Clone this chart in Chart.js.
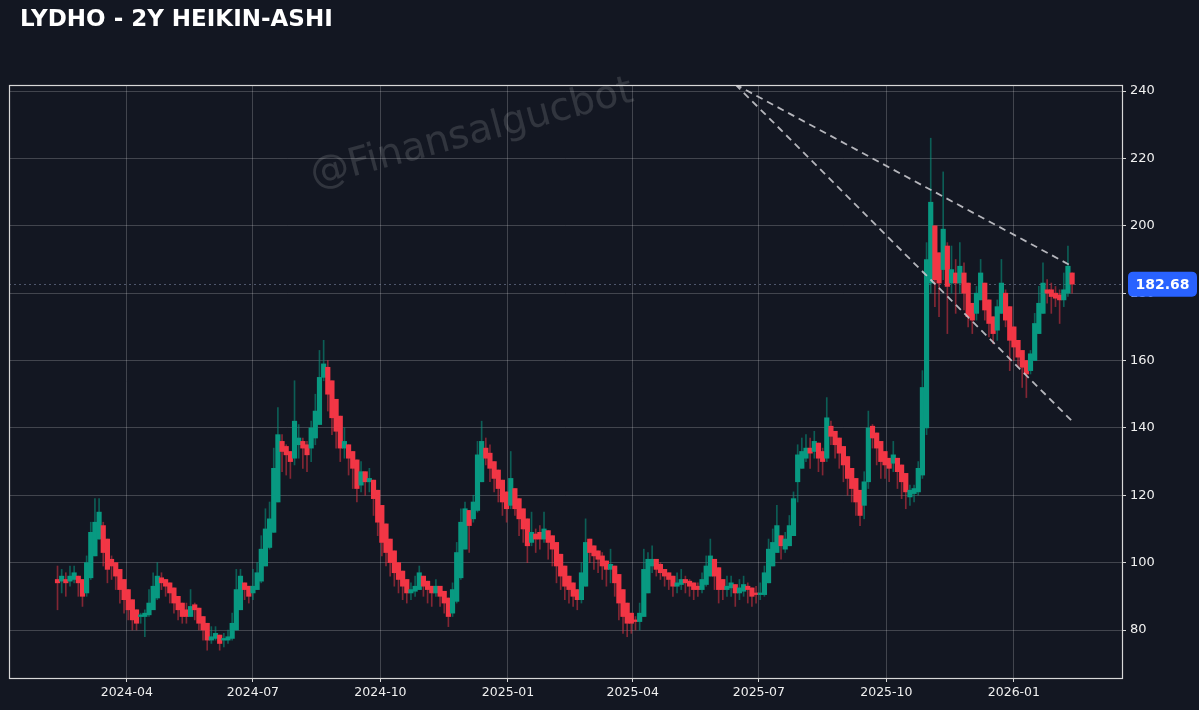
<!DOCTYPE html>
<html lang="tr">
<head>
<meta charset="UTF-8">
<title>LYDHO - 2Y HEIKIN-ASHI</title>
<script src="https://cdn.jsdelivr.net/npm/chart.js"></script>
<style>
  html, body { margin: 0; padding: 0; background: #131722; }
  #wrap { position: relative; width: 1199px; height: 710px; overflow: hidden; }
  #title { position: absolute; left: 20px; top: 7px; font: bold 23px/23px "DejaVu Sans", sans-serif; color: #ffffff; white-space: nowrap; }
  #chart { position: absolute; left: 0; top: 0; }
</style>
</head>
<body>
<div id="wrap">
  <canvas id="chart" width="1199" height="710"></canvas>
  <div id="title">LYDHO - 2Y HEIKIN-ASHI</div>
</div>
<script>
// --- data (Heikin-Ashi candles, one every 3 calendar days) ---
const candleStart = '2024-02-11';
const candleStepDays = 3;

const haOpen = [
  95,94.5,95,94.5,95,96,95,91,95.5,102,
  107,111,107,101,100,98,95,92,89,86,
  84,84,84.5,86,89.5,95.5,95,94,92.5,90,
  88,86,84,87.5,86.5,84,82,77,77.5,78.5,
  77,77,77.5,80,86,94,93,91,92,94.5,
  99,104.5,109,118,136,134.5,133,131,135,136,
  135,134,137,141,155,158,154,148.5,143.5,134,
  135,133,130.5,123,127,124,124.5,121.5,117,111.5,
  107,103.5,100,97.5,95,91,91.5,92,96,94.5,
  93,91,93,91.5,89.5,85,88.5,95.5,104,115.5,
  113,115.5,124,134,132.5,130,127.5,124.5,121,117,
  122,119,116,113,106,108.5,109,107,109.5,108,
  106,102.5,99,96,94,92,89,93,107,105,
  103.5,102,100.5,98,99,96.5,92,88,85,83,
  82.5,84,91,99,101,99.5,98,97,96,93,
  93.5,95,94.5,94,93,92,93.5,96,101,98.5,
  95,92,92.5,93.5,91,91.5,93,92.5,91,90.5,
  90.5,94,99,103,108,104,105,108,124,128,
  131,134,133,135.5,133,131,140.5,139,137,134.5,
  131.5,128,125,121.5,117,124,140.5,138.5,136,133,
  131,129.5,131,129,126.5,119.5,120.5,121,126,140,
  183,200,192,187,194,183,186,183,186,183,
  177,174,178,183,178,173,169,174,180,176,
  170,166,163,160,157,160,168,174,181,181,
  180,179.5,178,180,186
];
const haClose = [
  94,96,94,96,97,94,90,100,109,112,
  115,103,98,99,96,92,89,86,83,82,
  84.5,85,88,93,96,94,93,91,88,86,
  84,84,87,86,82,80,77,78,79,76,
  77.5,78,82,92,96,92,90,93,97,104,
  110,113,128,138,133,132,130,142,137,134,
  132,140,145,155,159,150,143,139,134,136,
  131,128,122,127,124,125,119,112,106,103,
  100,97,95,93,91,92,93,97,93,92,
  91,93,90,88,84,92,103,112,116,111,
  118,132,136,131,128,125,122,118,116,125,
  116,113,110,105,109,107,107,110,106,104,
  99,96,93,92,90,89,97,106,103,102,
  101,99,98,99.5,94,88,84,82,82,82.5,
  85,98,101,101,98,97,96,95,93,94,
  95,94,93,92,92,95,99,102,96,92,
  92,93,94,91,92.5,93.5,92,90,90.5,91,
  97,104,106,111,105,107,111,119,132,133,
  134,132.5,136,131,130,143,137.5,135,132.5,129,
  125,122,118,114,124,140,137,134,130,129,
  128,132,127,124,121,121.5,122,128,152,190,
  207,184,183,199,182,187,183,188,180,173,
  172,180,186,175,171,168,176,183,172,166,
  164,161,158,156,162,171,177,183,180,179,
  178.5,178,181,188,182.68
];
const haHigh = [
  99,98,97,99,99,96,92,102,112,119,
  119,112,103,102,98,94,91,88,85,84,
  85,86,92,97,100,97,95,93,90,88,
  86,88,92,88,84,82,79,81,81,78,
  79,80,85,98,98,94,92,98,100,108,
  116,118,134,146,138,135,133,154,141,137,
  136,142,150,163,166,160,150,142,137,140,
  133,131,124,130,126,128,121,114,108,105,
  102,99,97,95,93,94,96,99,95,94,
  93,95,92,90,86,94,106,116,118,115,
  120,136,142,137,135,130,125,121,118,133,
  122,116,112,108,115,110,111,115,109,106,
  101,98,95,94,92,91,100,113,107,104,
  103,103,100,104,97,90,86,84,83,84,
  88,104,103,105,101,100,98,97,95,97,
  98,96,95,94,94,97,102,107,99,94,
  94,96,96,93,95,96,94,92,93,94,
  99,107,110,117,108,109,114,121,135,137,
  138,137,139,135,134,149,142,139,136,132,
  128,125,121,117,127,145,141,137,133,131,
  130,136,130,126,123,123,123,130,157,195,
  226,200,190,216,195,194,190,195,189,182,
  176,182,190,183,176,172,178,190,181,175,
  168,165,162,159,163,174,182,189,184,183,
  182,181,186,194,186
];
const haLow = [
  86,91,90,93,94,90,87,90,95,102,
  107,99,94,95,92,88,85,83,80,80,
  82,78,84,86,89,92,90,88,85,83,
  82,82,84,83,80,77,74,76,77,74,
  75,76,77,80,86,89,88,89,92,94,
  99,104,109,118,127,126,125,129,131,128,
  127,130,135,141,154,145,138,134,130,131,
  126,122,118,121,120,121,114,108,102,99,
  96,93,91,89,88,89,90,92,90,88,
  87,90,87,85,81,84,88,95,104,103,
  112,115,124,129,124,121,118,114,112,116,
  114,108,106,100,105,103,104,106,101,99,
  94,92,89,88,87,86,88,93,100,98,
  97,95,93,94,90,83,79,78,79,80,
  80,84,91,97,96,95,93,92,90,91,
  92,91,90,89,90,91,93,96,92,88,
  89,90,90,87,89,90,88,87,88,89,
  90,94,99,103,101,103,105,108,118,128,
  130,128,131,127,126,130,135,131,128,124,
  120,118,114,111,113,122,134,129,125,125,
  124,127,122,119,116,117,118,120,125,138,
  180,176,173,184,168,180,174,180,175,170,
  168,172,178,172,167,165,166,174,170,157,
  160,158,152,149,156,160,168,174,177,174,
  176,171,176,179,180
];

// dashed trend lines (two points each)
const trendDates = ['2025-06-14', '2026-02-12'];
const upperTrend = [242, 188];
const lowerTrend = [242, 142];

const lastPrice = 182.68;

// axes
const xTickLabels = ['2024-04', '2024-07', '2024-10', '2025-01', '2025-04', '2025-07', '2025-10', '2026-01'];
const yTickValues = [80, 100, 120, 140, 160, 180, 200, 220, 240];
const xRangeDates = ['2024-01-07', '2026-03-20'];
const yRange = [65.75, 241.8];

// --- helpers ---
function dayNum(s) {
  const p = s.split('-').map(Number);
  return Date.UTC(p[0], p[1] - 1, p[2] || 1) / 86400000;
}

const GREEN = '#089981';
const RED = '#f23645';
const GREEN_WICK = 'rgba(8,153,129,0.55)';
const RED_WICK = 'rgba(242,54,69,0.5)';

const startDay = dayNum(candleStart);
const bodies = [];
const wicks = [];
haClose.forEach((c, i) => {
  const o = haOpen[i];
  const x = startDay + i * candleStepDays;
  const up = c >= o;
  bodies.push({ x: x, y: [o, c], up: up });
  wicks.push({ x: x, y: [Math.min(haLow[i], o, c), Math.max(haHigh[i], o, c)], up: up });
});

const xTickDays = xTickLabels.map(dayNum);

const overlay = {
  id: 'overlay',
  beforeDatasetsDraw(chart) {
    const { ctx, chartArea: a, scales } = chart;
    // last price dotted line
    const y = scales.y.getPixelForValue(lastPrice);
    ctx.save();
    ctx.strokeStyle = 'rgba(130,140,170,0.55)';
    ctx.lineWidth = 1;
    ctx.setLineDash([2, 3]);
    ctx.beginPath();
    ctx.moveTo(a.left, Math.round(y) + 0.5);
    ctx.lineTo(a.right, Math.round(y) + 0.5);
    ctx.stroke();
    ctx.restore();
  },
  afterDraw(chart) {
    const { ctx, chartArea: a, scales } = chart;
    ctx.save();
    // watermark
    ctx.save();
    ctx.translate(472, 134);
    ctx.rotate(-15 * Math.PI / 180);
    ctx.font = '39px "DejaVu Sans"';
    ctx.fillStyle = 'rgba(255,255,255,0.13)';
    ctx.textAlign = 'center';
    ctx.textBaseline = 'middle';
    ctx.fillText('@Finansalgucbot', 0, 0);
    ctx.restore();
    // frame
    ctx.strokeStyle = '#d8d8d8';
    ctx.lineWidth = 1.2;
    ctx.strokeRect(a.left + 0.5, a.top + 0.5, a.right - a.left, a.bottom - a.top);
    // last price tag
    const y = scales.y.getPixelForValue(lastPrice);
    const bx = a.right + 6, bw = 69, bh = 25;
    ctx.fillStyle = '#2962ff';
    ctx.beginPath();
    ctx.roundRect(bx, y - bh / 2, bw, bh, 5);
    ctx.fill();
    ctx.fillStyle = '#ffffff';
    ctx.font = 'bold 14px "DejaVu Sans"';
    ctx.textAlign = 'center';
    ctx.textBaseline = 'middle';
    ctx.fillText(lastPrice.toFixed(2), bx + bw / 2, y + 1);
    ctx.restore();
  }
};

const xTickFont = { family: '"DejaVu Sans"', size: 12.5 };
const yTickFont = { family: '"DejaVu Sans"', size: 13 };
const gridColor = 'rgba(255,255,255,0.2)';
const frameColor = '#d8d8d8';

new Chart(document.getElementById('chart'), {
  type: 'bar',
  data: {
    datasets: [
      {
        type: 'line', label: 'upper',
        data: trendDates.map((d, i) => ({ x: dayNum(d), y: upperTrend[i] })),
        borderColor: 'rgba(200,200,205,0.9)', borderWidth: 1.8, borderDash: [7, 5],
        pointRadius: 0, order: 0
      },
      {
        type: 'line', label: 'lower',
        data: trendDates.map((d, i) => ({ x: dayNum(d), y: lowerTrend[i] })),
        borderColor: 'rgba(200,200,205,0.9)', borderWidth: 1.8, borderDash: [7, 5],
        pointRadius: 0, order: 0
      },
      {
        label: 'body', data: bodies, grouped: false, barThickness: 4.5, minBarLength: 1,
        backgroundColor: c => (c.raw && c.raw.up ? GREEN : RED), borderWidth: 0, order: 1
      },
      {
        label: 'wick', data: wicks, grouped: false, barThickness: 1,
        backgroundColor: c => (c.raw && c.raw.up ? GREEN_WICK : RED_WICK), borderWidth: 0, order: 2
      }
    ]
  },
  options: {
    responsive: false,
    animation: false,
    devicePixelRatio: 1,
    layout: { padding: { left: 9, top: 85, right: 0, bottom: 0 } },
    plugins: { legend: { display: false }, tooltip: { enabled: false }, title: { display: false } },
    scales: {
      x: {
        type: 'linear',
        offset: false,
        min: dayNum(xRangeDates[0]),
        max: dayNum(xRangeDates[1]),
        afterBuildTicks: s => { s.ticks = xTickDays.map(v => ({ value: v })); },
        afterFit: s => { s.height = 32; },
        ticks: {
          autoSkip: false, maxRotation: 0, padding: 3, color: '#f0f0f0', font: xTickFont,
          callback: v => xTickLabels[xTickDays.indexOf(v)]
        },
        grid: { offset: false, color: gridColor, tickColor: frameColor, tickLength: 4 },
        border: { display: false }
      },
      y: {
        position: 'right',
        min: yRange[0],
        max: yRange[1],
        afterBuildTicks: s => { s.ticks = yTickValues.map(v => ({ value: v })); },
        afterFit: s => { s.width = 77; },
        ticks: { padding: 4, color: '#f0f0f0', font: yTickFont, callback: v => String(v) },
        grid: { color: gridColor, tickColor: frameColor, tickLength: 4 },
        border: { display: false }
      }
    }
  },
  plugins: [overlay]
});
</script>
</body>
</html>
